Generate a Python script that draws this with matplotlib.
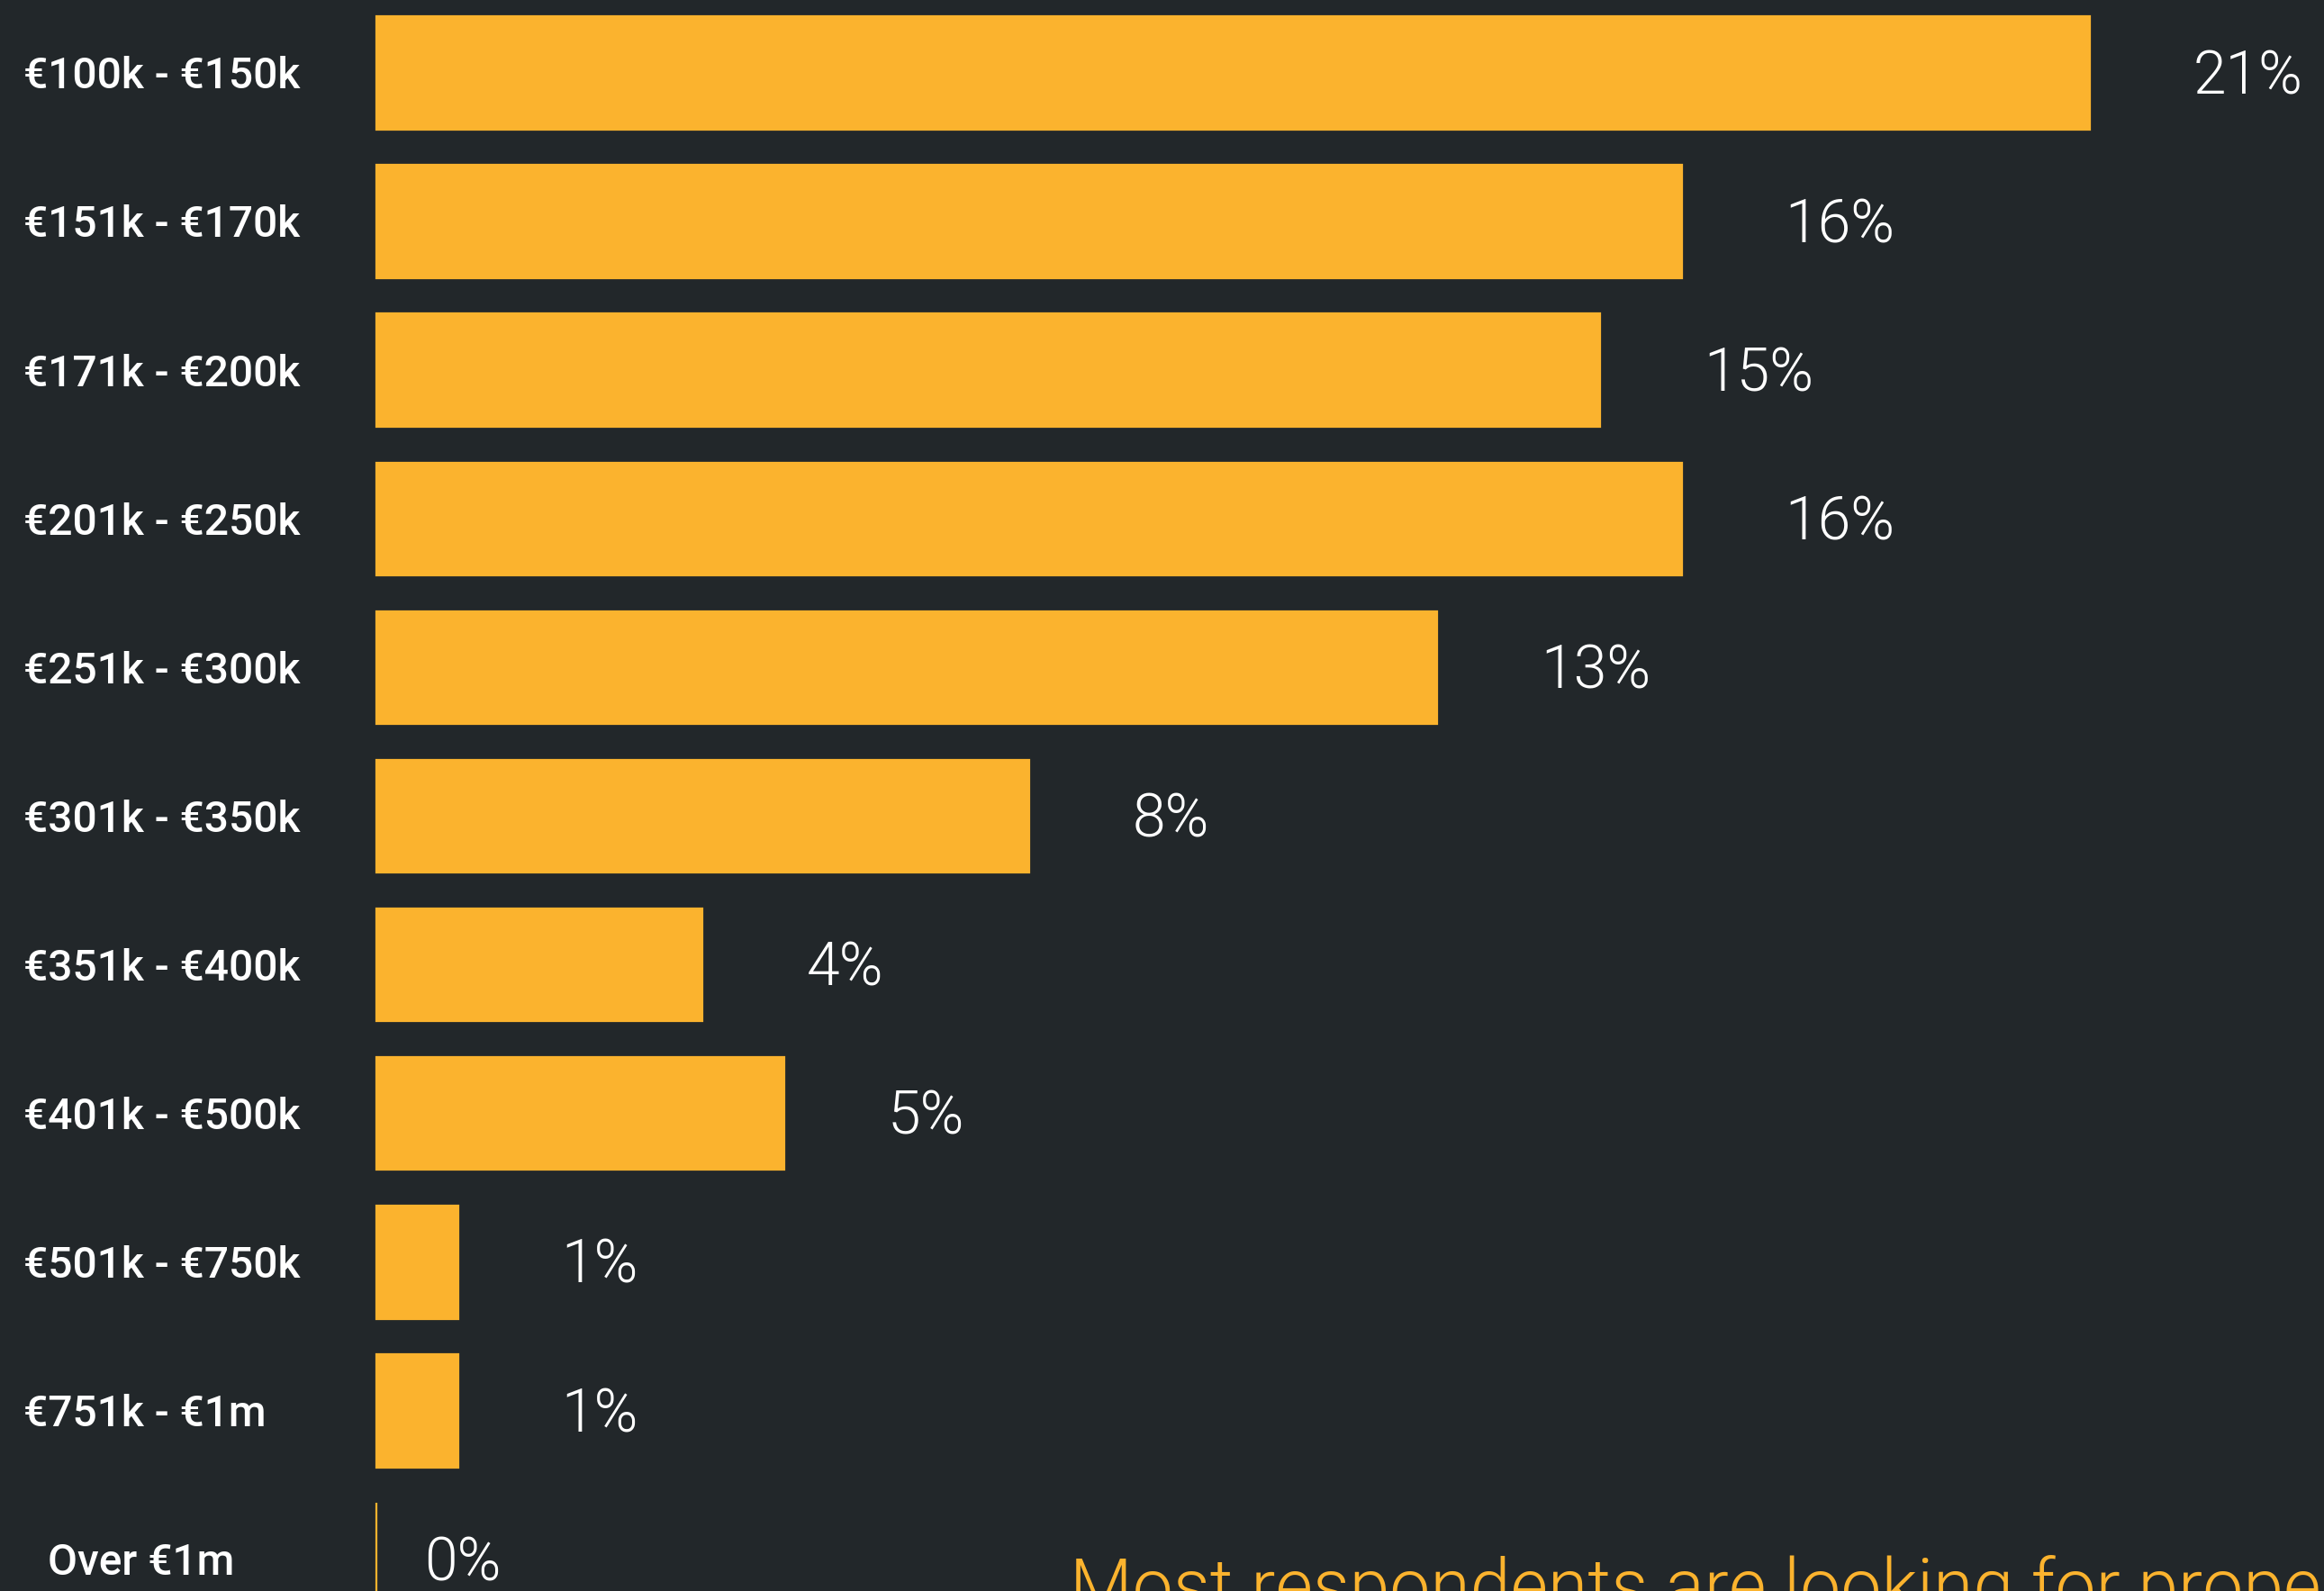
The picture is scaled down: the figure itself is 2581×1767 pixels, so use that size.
import matplotlib
matplotlib.use("Agg")
import matplotlib.pyplot as plt

# Budget bands and share of respondents (%)
categories = ["€100k - €150k", "€151k - €170k", "€171k - €200k", "€201k - €250k",
              "€251k - €300k", "€301k - €350k", "€351k - €400k", "€401k - €500k",
              "€501k - €750k", "€751k - €1m", "Over €1m"]
shares = [21, 16, 15, 16, 13, 8, 4, 5, 1, 1, 0]
value_labels = ["21%", "16%", "15%", "16%", "13%", "8%", "4%", "5%", "1%", "1%", "0%"]
note = "Most respondents are looking for properties"

BG = "#22272a"
ORANGE = "#fbb32e"
W, H, DPI = 2581, 1767, 100

fig = plt.figure(figsize=(W / DPI, H / DPI), dpi=DPI, facecolor=BG)
ax = fig.add_axes([0, 0, 1, 1])
ax.set_facecolor(BG)
ax.axis("off")

# pixel-aligned scales: 1% ≈ 90.6 px, bars start 418 px from the left
px_per_unit = 90.6
x0 = 418
row_px = 165.1
row0 = 81
ax.set_xlim(-x0 / px_per_unit, (W - x0) / px_per_unit)
ax.set_ylim((H - row0) / row_px, -row0 / row_px)

ys = list(range(len(categories)))
ax.barh(ys, shares, height=0.76, color=ORANGE, edgecolor=ORANGE, linewidth=1.6)

# category labels on the left
for y, cat in zip(ys, categories):
    xpix = 53 if cat.startswith("Over") else 26
    ax.annotate(cat, xy=(0, y + 0.105), xycoords=("figure pixels", "data"),
                xytext=(xpix, 0), textcoords="offset pixels",
                ha="left", va="baseline", color="white",
                fontsize=34.6, family=["Roboto", "DejaVu Sans"], fontweight=500)

# value labels to the right of each bar
for y, v, lab in zip(ys, shares, value_labels):
    off = 115 if v > 0 else 53
    ax.annotate(lab, xy=(v, y + 0.14), xytext=(off, 0), textcoords="offset pixels",
                ha="left", va="baseline", color="white",
                fontsize=47.5, family=["Roboto", "DejaVu Sans"], fontweight=300)

# caption running off the lower edge
ax.annotate(note, xy=(1188, H - 1789), xycoords="figure pixels",
            ha="left", va="baseline", color=ORANGE,
            fontsize=58, family=["Roboto", "DejaVu Sans"], fontweight=300)

fig.savefig("out.png", dpi=DPI, facecolor=BG)
